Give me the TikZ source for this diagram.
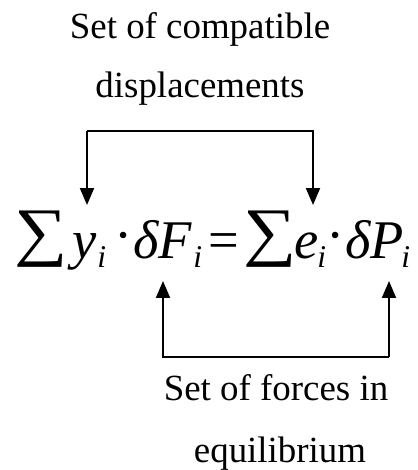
\documentclass[tikz,border=0pt]{standalone}
\usepackage{fontspec}
\setmainfont{Liberation Serif}
\usetikzlibrary{arrows.meta}

\begin{document}
\begin{tikzpicture}[x=0.02cm, y=-0.02cm, >={Triangle[length=3.4mm,width=2.8mm]},
    link/.style={line width=1.1pt},
    lbl/.style={font=\fontsize{21}{25}\selectfont, anchor=base, inner sep=0pt},
    mth/.style={font=\fontsize{31}{36}\selectfont\itshape, anchor=base west, inner sep=0pt},
    sbs/.style={font=\fontsize{18}{22}\selectfont\itshape, anchor=base west, inner sep=0pt},
    sgm/.style={font=\fontsize{37}{40}\selectfont, anchor=base west, inner sep=0pt},
    opr/.style={font=\fontsize{31}{36}\selectfont, anchor=base, inner sep=0pt}]
  \useasboundingbox (0,0) rectangle (417,470);
  % labels
  \node[lbl] (comp) at (200,38) {Set of compatible};
  \node[lbl] (disp) at (200,97) {displacements};
  \node[lbl] (forc) at (276,400) {Set of forces in};
  \node[lbl] (equi) at (280,462) {equilibrium};
  % virtual work equation, piece by piece
  \node[sgm] (sumA) at (14,260) {\raisebox{0.1em}{\scalebox{1.15}[1]{∑}}};
  \node[mth] (y)    at (72,258) {y};
  \node[sbs] (yi)   at (97,267) {i};
  \node[opr] (dotA) at (124,258) {\raisebox{0.08em}{·}};
  \node[mth] (dF)   at (133,258) {δF};
  \node[sbs] (Fi)   at (193,267) {i};
  \node[opr] (eq)   at (224,258) {=};
  \node[sgm] (sumB) at (243,260) {\raisebox{0.1em}{\scalebox{1.15}[1]{∑}}};
  \node[mth] (e)    at (294,258) {e};
  \node[sbs] (ei)   at (317,267) {i};
  \node[opr] (dotB) at (336,258) {\raisebox{0.08em}{·}};
  \node[mth] (dP)   at (345,258) {δP};
  \node[sbs] (Pi)   at (401,267) {i};
  % brackets
  \coordinate (topL) at (87,131);
  \coordinate (topR) at (313,131);
  \coordinate (yTip) at (87,205);
  \coordinate (eTip) at (313,205);
  \coordinate (botL) at (163,357);
  \coordinate (botR) at (389,357);
  \coordinate (fTip) at (163,281);
  \coordinate (pTip) at (389,281);
  \draw[link,->] (topL) -- (yTip);
  \draw[link,->] (topL) -- (topR) -- (eTip);
  \draw[link,->] (botR) -- (pTip);
  \draw[link,->] (botR) -- (botL) -- (fTip);
\end{tikzpicture}
\end{document}
